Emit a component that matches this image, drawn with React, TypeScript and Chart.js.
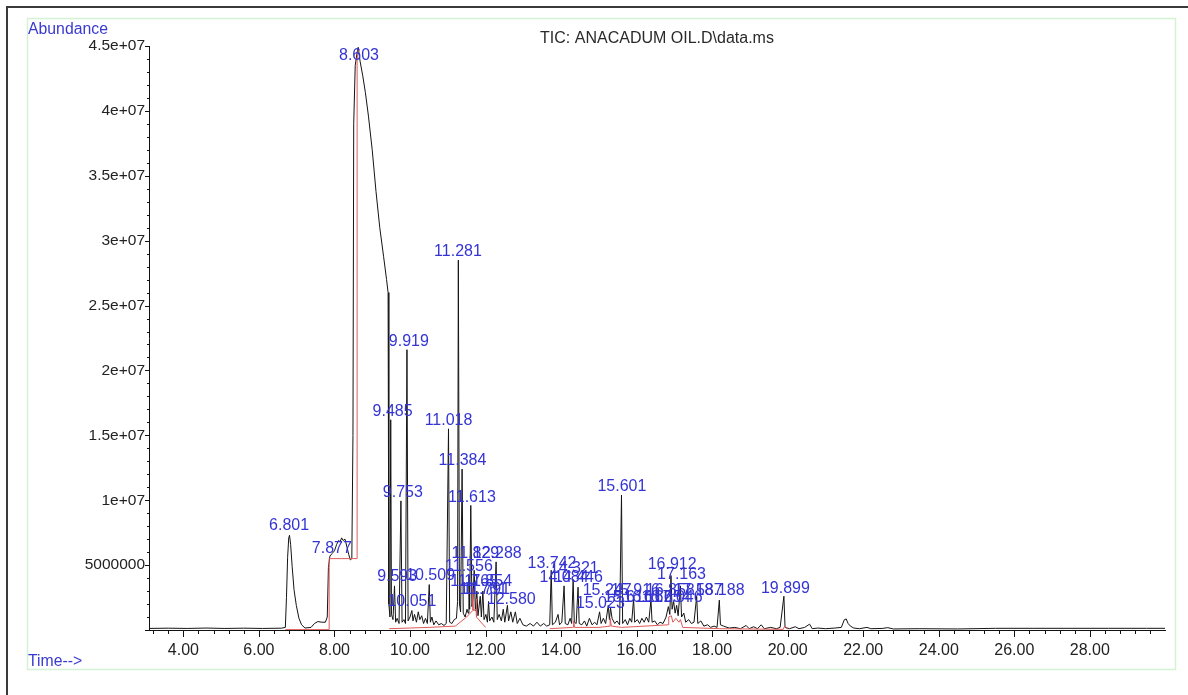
import React, { useEffect, useRef } from "react";
import { Chart, registerables } from "chart.js";

Chart.register(...registerables);

const FONT = '"Liberation Sans", Arial, Helvetica, sans-serif';

const titleText = "TIC: ANACADUM OIL.D\\data.ms";
const yAxisTitle = "Abundance";
const xAxisTitle = "Time-->";

// TIC trace (retention time in minutes, abundance)
const ticTimes = [
  3.10, 3.60, 4.10, 4.60, 5.10, 5.60, 6.10, 6.60, 6.70, 6.73, 6.76, 6.79, 6.81, 6.84, 6.88, 6.93, 6.99, 7.06, 7.13, 7.22,
  7.38, 7.47, 7.56, 7.66, 7.76, 7.81, 7.84, 7.88, 7.94, 8.00, 8.06, 8.11, 8.15, 8.19, 8.23, 8.28, 8.33, 8.38, 8.42, 8.46,
  8.49, 8.51, 8.55, 8.60, 8.63, 8.68, 8.75, 8.82, 8.90, 9.00, 9.10, 9.20, 9.30, 9.38, 9.42, 9.44, 9.47, 9.49, 9.51, 9.55,
  9.59, 9.62, 9.66, 9.71, 9.76, 9.79, 9.84, 9.88, 9.92, 9.95, 10.00, 10.05, 10.08, 10.12, 10.17, 10.22, 10.26, 10.31, 10.36, 10.41,
  10.46, 10.51, 10.54, 10.58, 10.63, 10.69, 10.76, 10.83, 10.90, 10.96, 11.02, 11.05, 11.11, 11.17, 11.23, 11.26, 11.28, 11.31, 11.34, 11.38,
  11.41, 11.46, 11.51, 11.54, 11.56, 11.58, 11.61, 11.64, 11.67, 11.70, 11.73, 11.77, 11.80, 11.86, 11.89, 11.93, 11.96, 12.01, 12.05, 12.08,
  12.11, 12.17, 12.22, 12.28, 12.31, 12.36, 12.42, 12.47, 12.51, 12.58, 12.61, 12.67, 12.72, 12.79, 12.84, 12.91, 12.99, 13.08, 13.18, 13.27,
  13.36, 13.45, 13.54, 13.62, 13.70, 13.74, 13.77, 13.85, 13.92, 13.96, 14.02, 14.08, 14.11, 14.18, 14.24, 14.28, 14.32, 14.35, 14.40, 14.45,
  14.48, 14.55, 14.62, 14.68, 14.75, 14.82, 14.89, 14.95, 15.02, 15.06, 15.12, 15.18, 15.25, 15.28, 15.31, 15.35, 15.42, 15.48, 15.55, 15.60,
  15.63, 15.70, 15.76, 15.82, 15.87, 15.92, 15.95, 16.02, 16.08, 16.14, 16.20, 16.26, 16.32, 16.38, 16.41, 16.48, 16.55, 16.62, 16.70, 16.78,
  16.84, 16.88, 16.91, 16.94, 16.98, 17.02, 17.06, 17.10, 17.16, 17.19, 17.25, 17.30, 17.38, 17.45, 17.52, 17.59, 17.62, 17.70, 17.78, 17.88,
  17.96, 18.05, 18.13, 18.19, 18.22, 18.30, 18.45, 18.60, 18.75, 18.90, 18.98, 19.10, 19.20, 19.30, 19.38, 19.55, 19.70, 19.80, 19.90, 19.93,
  20.05, 20.20, 20.30, 20.45, 20.58, 20.65, 20.80, 21.00, 21.25, 21.42, 21.50, 21.55, 21.60, 21.66, 21.75, 21.90, 22.10, 22.20, 22.50, 22.65,
  22.80, 23.50, 24.50, 25.50, 26.50, 27.50, 28.50, 29.50, 29.99,
];
const ticAbundance = [
  0.12e6, 0.14e6, 0.12e6, 0.15e6, 0.12e6, 0.14e6, 0.12e6, 0.14e6, 0.2e6, 2.5e6, 5.6e6, 7.1e6, 7.3e6, 6.6e6, 4.9e6, 3.1e6, 1.9e6, 0.9e6, 0.4e6, 0.15e6,
  0.2e6, 0.5e6, 0.65e6, 0.6e6, 0.6e6, 1.0e6, 4.8e6, 5.7e6, 5.9e6, 6.1e6, 6.6e6, 6.9e6, 6.8e6, 7.1e6, 6.9e6, 7.0e6, 6.4e6, 5.8e6, 5.4e6, 5.5e6,
  1.5e7, 3.9e7, 4.35e7, 4.45e7, 4.49e7, 4.38e7, 4.27e7, 4.14e7, 3.96e7, 3.70e7, 3.38e7, 3.10e7, 2.88e7, 2.70e7, 2.60e7, 2.0e6, 1.0e6, 1.62e7, 1.2e6, 0.8e6,
  3.4e6, 0.6e6, 0.9e6, 0.5e6, 9.95e6, 0.6e6, 0.8e6, 0.5e6, 2.16e7, 0.7e6, 1.0e6, 1.5e6, 0.7e6, 1.2e6, 0.6e6, 1.4e6, 0.8e6, 1.1e6, 0.5e6, 0.9e6,
  0.5e6, 3.5e6, 0.6e6, 1.0e6, 0.4e6, 0.7e6, 0.4e6, 0.5e6, 0.35e6, 0.5e6, 1.55e7, 0.6e6, 0.5e6, 0.8e6, 0.9e6, 2.2e6, 2.85e7, 2.0e6, 1.4e6, 1.24e7,
  1.3e6, 1.0e6, 1.6e6, 1.3e6, 4.2e6, 1.6e6, 9.6e6, 1.8e6, 2.4e6, 4.6e6, 1.5e6, 3.0e6, 1.1e6, 2.6e6, 1.0e6, 3.0e6, 0.8e6, 1.2e6, 0.6e6, 2.2e6,
  0.7e6, 1.0e6, 0.6e6, 5.25e6, 0.8e6, 1.2e6, 0.7e6, 1.6e6, 0.6e6, 1.9e6, 0.7e6, 1.4e6, 0.6e6, 1.4e6, 0.5e6, 0.9e6, 0.4e6, 0.3e6, 0.5e6, 0.3e6,
  0.6e6, 0.3e6, 0.5e6, 0.3e6, 0.4e6, 4.6e6, 0.4e6, 0.6e6, 1.2e6, 0.4e6, 0.6e6, 3.4e6, 0.5e6, 0.4e6, 0.9e6, 0.5e6, 3.9e6, 0.6e6, 0.5e6, 3.3e6,
  0.5e6, 0.4e6, 0.7e6, 0.3e6, 0.9e6, 0.4e6, 0.6e6, 0.4e6, 1.4e6, 0.5e6, 0.9e6, 0.5e6, 1.9e6, 0.8e6, 1.7e6, 0.9e6, 0.5e6, 0.7e6, 0.4e6, 1.04e7,
  0.5e6, 0.8e6, 0.4e6, 0.9e6, 0.6e6, 2.4e6, 0.6e6, 0.8e6, 0.5e6, 0.9e6, 0.6e6, 1.0e6, 0.6e6, 2.3e6, 0.6e6, 0.7e6, 0.4e6, 0.6e6, 0.5e6, 1.0e6,
  1.8e6, 1.2e6, 4.2e6, 1.6e6, 2.2e6, 1.3e6, 1.9e6, 1.1e6, 3.4e6, 1.0e6, 1.3e6, 0.6e6, 0.8e6, 0.5e6, 0.6e6, 2.6e6, 0.5e6, 0.7e6, 0.3e6, 0.4e6,
  0.2e6, 0.3e6, 0.2e6, 2.3e6, 0.4e6, 0.3e6, 0.15e6, 0.2e6, 0.1e6, 0.35e6, 0.1e6, 0.25e6, 0.1e6, 0.4e6, 0.1e6, 0.2e6, 0.1e6, 0.2e6, 2.6e6, 0.2e6,
  0.1e6, 0.25e6, 0.1e6, 0.2e6, 0.45e6, 0.1e6, 0.15e6, 0.1e6, 0.15e6, 0.2e6, 0.8e6, 0.85e6, 0.5e6, 0.3e6, 0.15e6, 0.1e6, 0.2e6, 0.1e6, 0.12e6, 0.18e6,
  0.08e6, 0.1e6, 0.08e6, 0.13e6, 0.13e6, 0.13e6, 0.13e6, 0.13e6, 0.13e6,
];

// integration baseline / peak boundary marks (red); null = gap
const baseTimes = [
  6.70, 7.86, 7.86, 8.60, 8.60, 8.63, 8.64,
  9.45, 10.50, 11.20, 11.50, 11.66, 11.66, 11.68, 11.75, 11.75, 11.77, 12.00, 12.01,
  13.70, 14.30, 14.33, 14.33, 14.36, 15.00, 15.30, 15.30, 15.33, 15.60, 16.84, 16.85, 16.92, 16.96, 17.04, 17.12, 17.16, 17.22, 18.20, 19.88, 19.92, 20.00,
];
const baseAbundance = [
  0.03e6, 0.03e6, 5.5e6, 5.5e6, 4.40e7, 4.47e7, null,
  0.1e6, 0.2e6, 0.3e6, 1.0e6, 1.5e6, 3.2e6, 1.5e6, 1.6e6, 2.4e6, 1.0e6, 0.2e6, null,
  0.1e6, 0.2e6, 0.2e6, 0.7e6, 0.2e6, 0.2e6, 0.3e6, 0.9e6, 0.3e6, 0.2e6, 0.4e6, 1.0e6, 1.1e6, 0.6e6, 0.9e6, 0.6e6, 0.8e6, 0.2e6, 0.1e6, 0.05e6, 0.3e6, 0.05e6,
];

// peak annotations
const peakLabels = [
  "6.801", "7.877", "8.603", "9.485", "9.593", "9.753", "9.919", "10.051", "10.509", "11.018",
  "11.281", "11.384", "11.556", "11.613", "11.829", "12.288", "11.765", "11.854", "11.761", "11.791",
  "12.580", "13.742", "14.321", "14.084", "14.446", "15.023", "15.247", "15.916", "16.858", "17.587",
  "18.188", "15.616", "16.162", "16.654", "17.046", "15.601", "16.912", "17.163", "19.899",
];
const peakLabelTimes = [
  6.80, 7.93, 8.65, 9.54, 9.66, 9.81, 9.97, 10.05, 10.545, 11.02,
  11.27, 11.39, 11.56, 11.64, 11.73, 12.31, 11.70, 12.07, 11.94, 12.02,
  12.68, 13.76, 14.35, 14.08, 14.46, 15.04, 15.22, 15.97, 16.89, 17.63,
  18.21, 15.78, 16.30, 16.78, 17.10, 15.61, 16.94, 17.19, 19.94,
];
const peakLabelHeights = [
  7.36e6, 5.64e6, 4.357e7, 1.616e7, 3.45e6, 9.95e6, 2.156e7, 1.53e6, 3.53e6, 1.547e7,
  2.847e7, 1.239e7, 4.22e6, 9.57e6, 5.25e6, 5.25e6, 3.07e6, 3.07e6, 2.43e6, 2.43e6,
  1.66e6, 4.48e6, 4.1e6, 3.4e6, 3.4e6, 1.4e6, 2.37e6, 2.37e6, 2.37e6, 2.37e6,
  2.37e6, 1.81e6, 1.81e6, 1.81e6, 1.81e6, 1.04e7, 4.35e6, 3.58e6, 2.56e6,
];

const xTickValues = [4, 6, 8, 10, 12, 14, 16, 18, 20, 22, 24, 26, 28];
const xTickLabels = ["4.00", "6.00", "8.00", "10.00", "12.00", "14.00", "16.00", "18.00", "20.00", "22.00", "24.00", "26.00", "28.00"];
const yTickValues = [0, 5e6, 1e7, 1.5e7, 2e7, 2.5e7, 3e7, 3.5e7, 4e7, 4.5e7];
const yTickLabels = ["", "5000000", "1e+07", "1.5e+07", "2e+07", "2.5e+07", "3e+07", "3.5e+07", "4e+07", "4.5e+07"];

const X_MIN = 3.09;
const X_MAX = 29.99;
const Y_MAX = 4.5e7;
const X_MINOR_STEP = 0.4;
const Y_MINOR_STEP = 1e6;

const decorPlugin = {
  id: "decor",
  afterDraw(chart: any) {
    const { ctx, scales } = chart;
    const xs = scales.x;
    const ys = scales.y;
    const area = chart.chartArea;
    ctx.save();

    // outer screenshot edge
    ctx.strokeStyle = "#3a3a3a";
    ctx.lineWidth = 2;
    ctx.beginPath();
    ctx.moveTo(7, 695);
    ctx.lineTo(7, 7);
    ctx.lineTo(1188, 7);
    ctx.stroke();

    // light green frame
    ctx.strokeStyle = "#d4f2d4";
    ctx.lineWidth = 1.5;
    ctx.strokeRect(27.5, 18.5, 1148, 651);

    // x tick marks
    ctx.strokeStyle = "#111";
    ctx.lineWidth = 1;
    ctx.beginPath();
    for (let v = 3.2; v <= X_MAX; v += X_MINOR_STEP) {
      const px = Math.round(xs.getPixelForValue(v)) + 0.5;
      ctx.moveTo(px, area.bottom);
      ctx.lineTo(px, area.bottom + 4);
    }
    xTickValues.forEach((v) => {
      const px = Math.round(xs.getPixelForValue(v)) + 0.5;
      ctx.moveTo(px, area.bottom);
      ctx.lineTo(px, area.bottom + 7);
    });
    // y tick marks
    for (let v = 0; v <= Y_MAX + 1; v += Y_MINOR_STEP) {
      const py = Math.round(ys.getPixelForValue(v)) + 0.5;
      ctx.moveTo(area.left, py);
      ctx.lineTo(area.left - 2, py);
    }
    yTickValues.forEach((v) => {
      const py = Math.round(ys.getPixelForValue(v)) + 0.5;
      ctx.moveTo(area.left, py);
      ctx.lineTo(area.left - 4, py);
    });
    ctx.stroke();

    // titles
    ctx.fillStyle = "#3a3ad0";
    ctx.font = `15.8px ${FONT}`;
    ctx.textAlign = "left";
    ctx.textBaseline = "middle";
    ctx.fillText(yAxisTitle, 28, 30);
    ctx.fillText(xAxisTitle, 28, 662);

    ctx.fillStyle = "#2a2a2a";
    ctx.textAlign = "center";
    ctx.font = `16px ${FONT}`;
    ctx.fillText(titleText, 657, 39);

    // peak labels
    ctx.fillStyle = "#3434d4";
    ctx.font = `16px ${FONT}`;
    peakLabels.forEach((label, i) => {
      const px = xs.getPixelForValue(peakLabelTimes[i]);
      const py = ys.getPixelForValue(peakLabelHeights[i]) - 8.5;
      ctx.fillText(label, px, py);
    });
    ctx.restore();
  },
};

export default function App() {
  const canvasRef = useRef<HTMLCanvasElement | null>(null);

  useEffect(() => {
    if (!canvasRef.current) return;
    const ticData = ticTimes.map((t, i) => ({ x: t, y: ticAbundance[i] }));
    const baseData = baseTimes.map((t, i) => ({ x: t, y: baseAbundance[i] }));
    const chart = new Chart(canvasRef.current, {
      type: "scatter",
      data: {
        datasets: [
          {
            label: "baseline",
            data: baseData as any,
            showLine: true,
            borderColor: "#e05a5a",
            borderWidth: 1,
            pointRadius: 0,
            spanGaps: false,
          },
          {
            label: "TIC",
            data: ticData,
            showLine: true,
            borderColor: "#141414",
            borderWidth: 1,
            pointRadius: 0,
          },
        ],
      },
      options: {
        animation: false,
        responsive: false,
        devicePixelRatio: 1,
        layout: { padding: { left: 0, top: 46, right: 23, bottom: 0 } },
        plugins: { legend: { display: false }, tooltip: { enabled: false } },
        scales: {
          x: {
            type: "linear",
            min: X_MIN,
            max: X_MAX,
            grid: { display: false, drawTicks: false },
            border: { display: true, color: "#111", width: 1 },
            afterFit: (s: any) => {
              s.height = 65;
            },
            afterBuildTicks: (s: any) => {
              s.ticks = xTickValues.map((v) => ({ value: v }));
            },
            ticks: {
              autoSkip: false,
              maxRotation: 0,
              padding: 11,
              color: "#222",
              font: { family: FONT, size: 16 },
              callback: (_v: any, i: number) => xTickLabels[i],
            },
          },
          y: {
            type: "linear",
            min: 0,
            max: Y_MAX,
            grid: { display: false, drawTicks: false },
            border: { display: true, color: "#111", width: 1 },
            afterFit: (s: any) => {
              s.width = 149;
            },
            afterBuildTicks: (s: any) => {
              s.ticks = yTickValues.map((v) => ({ value: v }));
            },
            ticks: {
              autoSkip: false,
              padding: 4,
              color: "#222",
              font: { family: FONT, size: 15.5 },
              callback: (_v: any, i: number) => yTickLabels[i],
            },
          },
        },
      },
      plugins: [decorPlugin],
    });
    return () => chart.destroy();
  }, []);

  return (
    <div style={{ position: "absolute", left: 0, top: 0, width: 1188, height: 695, background: "#fff" }}>
      <canvas ref={canvasRef} width={1188} height={695} style={{ display: "block", width: 1188, height: 695 }} />
    </div>
  );
}
